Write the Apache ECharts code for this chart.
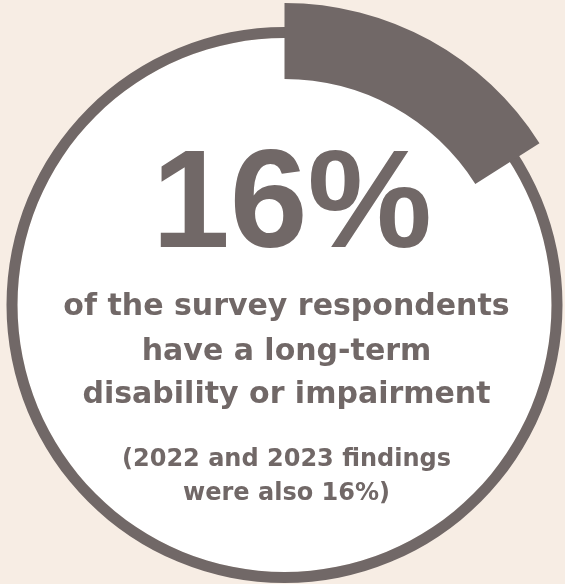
<!DOCTYPE html>
<html>
<head>
<meta charset="utf-8">
<script src="https://cdn.jsdelivr.net/npm/echarts@6/dist/echarts.min.js"></script>
<style>
html,body{margin:0;padding:0;background:#f7ede4;}
#chart{width:565px;height:584px;}
</style>
</head>
<body>
<div id="chart"></div>
<script>
// Data
var shareLabels = ['Long-term disability or impairment', 'Other respondents'];
var shareValues = [16, 84];
var headlineLines = ['of the survey respondents', 'have a long-term', 'disability or impairment'];
var noteLines = ['(2022 and 2023 findings', 'were also 16%)'];

var GRAY = '#716867';
var BG = '#f7ede4';
var CX = 284.5, CY = 305;

var chart = echarts.init(document.getElementById('chart'), null, {renderer: 'canvas'});

var pieBase = {
  type: 'pie',
  center: [CX, CY],
  startAngle: 90,
  clockwise: true,
  silent: true,
  animation: false,
  avoidLabelOverlap: false,
  label: {show: false},
  labelLine: {show: false},
  emphasis: {disabled: true}
};

var graphics = [];
graphics.push({
  type: 'text', x: 292, y: 208, z: 100,
  style: {
    text: shareValues[0] + '%',
    fontSize: 140, fontWeight: 'bold', fontFamily: '"Liberation Sans", Arial, sans-serif',
    fill: GRAY, align: 'center', verticalAlign: 'middle'
  }
});
var headY = [307, 352, 395];
headlineLines.forEach(function (t, i) {
  graphics.push({
    type: 'text', x: CX + 2, y: headY[i], z: 100,
    style: {
      text: t,
      fontSize: 30, fontWeight: 'bold', fontFamily: '"DejaVu Sans", sans-serif',
      fill: GRAY, align: 'center', verticalAlign: 'middle'
    }
  });
});
var noteY = [460, 494];
noteLines.forEach(function (t, i) {
  graphics.push({
    type: 'text', x: CX + 2, y: noteY[i], z: 100,
    style: {
      text: t,
      fontSize: 24, fontWeight: 'bold', fontFamily: '"DejaVu Sans", sans-serif',
      fill: GRAY, align: 'center', verticalAlign: 'middle'
    }
  });
});

chart.setOption({
  backgroundColor: BG,
  animation: false,
  series: [
    Object.assign({}, pieBase, {
      name: 'fill',
      radius: [0, 267],
      z: 1,
      data: [{name: 'all', value: shareValues[0] + shareValues[1], itemStyle: {color: '#ffffff'}}]
    }),
    Object.assign({}, pieBase, {
      name: 'ring',
      radius: [267, 278],
      z: 2,
      data: [{name: 'all', value: shareValues[0] + shareValues[1], itemStyle: {color: GRAY}}]
    }),
    Object.assign({}, pieBase, {
      name: 'share',
      radius: [226, 302],
      z: 3,
      data: [
        {name: shareLabels[0], value: shareValues[0], itemStyle: {color: GRAY}},
        {name: shareLabels[1], value: shareValues[1], itemStyle: {color: 'rgba(0,0,0,0)'}}
      ]
    })
  ],
  graphic: {elements: graphics}
});
</script>
</body>
</html>
